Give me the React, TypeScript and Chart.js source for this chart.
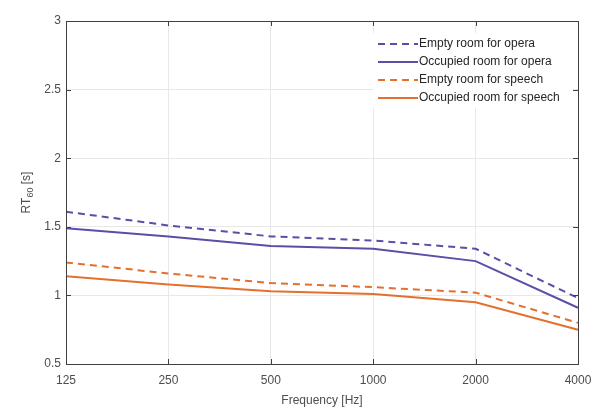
import React, { useEffect, useRef } from "react";
import { Chart, registerables } from "chart.js";

Chart.register(...registerables);

const frequencies = ["125", "250", "500", "1000", "2000", "4000"];
const emptyOpera = [1.61, 1.51, 1.43, 1.40, 1.34, 0.98];
const occupiedOpera = [1.49, 1.43, 1.36, 1.34, 1.25, 0.91];
const emptySpeech = [1.24, 1.16, 1.09, 1.06, 1.02, 0.80];
const occupiedSpeech = [1.14, 1.08, 1.03, 1.01, 0.95, 0.75];
const seriesLabels = [
  "Empty room for opera",
  "Occupied room for opera",
  "Empty room for speech",
  "Occupied room for speech",
];

const PURPLE = "#5a4ea6";
const ORANGE = "#e3702d";
const AXIS = "#404040";
const TEXT = "#4d4d4d";
const FONT = "'Liberation Sans', Arial, Helvetica, sans-serif";

const boxPlugin = {
  id: "boxPlugin",
  afterDatasetsDraw(chart: any) {
    const ctx = chart.ctx;
    const { left, right, top, bottom } = chart.chartArea;
    ctx.save();
    // legend
    const lx0 = 373, lx1 = 573, ly0 = 33, ly1 = 108;
    ctx.fillStyle = "#ffffff";
    ctx.fillRect(lx0, ly0, lx1 - lx0, ly1 - ly0);
    chart.data.datasets.forEach((ds: any, i: number) => {
      const y = 44 + i * 18;
      ctx.beginPath();
      ctx.strokeStyle = ds.borderColor;
      ctx.lineWidth = ds.borderWidth;
      ctx.setLineDash(ds.borderDash || []);
      ctx.moveTo(378, y);
      ctx.lineTo(418, y);
      ctx.stroke();
      ctx.setLineDash([]);
      ctx.fillStyle = "#262626";
      ctx.font = `12px ${FONT}`;
      ctx.textBaseline = "middle";
      ctx.textAlign = "left";
      ctx.fillText(ds.label, 419, y);
    });
    // box
    ctx.strokeStyle = AXIS;
    ctx.lineWidth = 1;
    ctx.setLineDash([]);
    ctx.strokeRect(Math.round(left) + 0.5, Math.round(top) + 0.5, Math.round(right - left), Math.round(bottom - top));
    // inward ticks
    const xs = chart.scales.x;
    const ys = chart.scales.y;
    ctx.beginPath();
    xs.ticks.forEach((_t: any, i: number) => {
      const x = Math.round(xs.getPixelForTick(i)) + 0.5;
      ctx.moveTo(x, bottom);
      ctx.lineTo(x, bottom - 5);
      ctx.moveTo(x, top);
      ctx.lineTo(x, top + 5);
    });
    ys.ticks.forEach((_t: any, i: number) => {
      const y = Math.round(ys.getPixelForTick(i)) + 0.5;
      ctx.moveTo(left, y);
      ctx.lineTo(left + 5, y);
      ctx.moveTo(right, y);
      ctx.lineTo(right - 5, y);
    });
    ctx.stroke();
    // y title with subscript
    ctx.translate(27, (top + bottom) / 2);
    ctx.rotate(-Math.PI / 2);
    ctx.fillStyle = TEXT;
    ctx.textBaseline = "middle";
    ctx.textAlign = "left";
    const p1 = "RT";
    const p3 = " [s]";
    ctx.font = `9px ${FONT}`;
    const w2 = ctx.measureText("60").width;
    ctx.font = `12px ${FONT}`;
    const w1 = ctx.measureText(p1).width;
    const w3 = ctx.measureText(p3).width;
    const total = w1 + w2 + w3;
    let x = -total / 2;
    ctx.fillText(p1, x, 0);
    x += w1;
    ctx.font = `9px ${FONT}`;
    ctx.fillText("60", x, 4);
    x += w2;
    ctx.font = `12px ${FONT}`;
    ctx.fillText(p3, x, 0);
    ctx.restore();
  },
};

export default function App() {
  const ref = useRef<HTMLCanvasElement>(null);
  useEffect(() => {
    if (!ref.current) return;
    const chart = new Chart(ref.current, {
      type: "line",
      data: {
        labels: frequencies,
        datasets: [
          { label: seriesLabels[0], data: emptyOpera, borderColor: PURPLE, borderWidth: 2, borderDash: [7, 5], pointRadius: 0, fill: false, tension: 0 },
          { label: seriesLabels[1], data: occupiedOpera, borderColor: PURPLE, borderWidth: 2, pointRadius: 0, fill: false, tension: 0 },
          { label: seriesLabels[2], data: emptySpeech, borderColor: ORANGE, borderWidth: 2, borderDash: [7, 5], pointRadius: 0, fill: false, tension: 0 },
          { label: seriesLabels[3], data: occupiedSpeech, borderColor: ORANGE, borderWidth: 2, pointRadius: 0, fill: false, tension: 0 },
        ],
      },
      options: {
        responsive: false,
        animation: false,
        layout: { padding: { left: 0, right: 17, top: 21, bottom: 0 } },
        plugins: { legend: { display: false }, tooltip: { enabled: false } },
        scales: {
          x: {
            type: "category",
            offset: false,
            grid: { color: "#e8e8e8", drawTicks: false },
            border: { display: false },
            ticks: { color: TEXT, font: { family: FONT, size: 12 }, padding: 9, maxRotation: 0, autoSkip: false },
            title: { display: true, text: "Frequency [Hz]", color: TEXT, font: { family: FONT, size: 12 }, padding: { top: 2, bottom: 0 } },
            afterFit: (s: any) => { s.height = 44; s.paddingLeft = 0; s.paddingRight = 0; },
          },
          y: {
            min: 0.5,
            max: 3,
            grid: { color: "#e8e8e8", drawTicks: false },
            border: { display: false },
            ticks: {
              stepSize: 0.5,
              color: TEXT,
              font: { family: FONT, size: 12 },
              padding: 5,
              callback: (v: any) => String(Number(v)),
            },
            afterFit: (s: any) => { s.width = 66; s.paddingTop = 0; s.paddingBottom = 0; },
          },
        },
      },
      plugins: [boxPlugin],
    } as any);
    return () => chart.destroy();
  }, []);
  return (
    <div style={{ position: "fixed", left: 0, top: 0, width: 595, height: 408, background: "#fff" }}>
      <canvas ref={ref} width={595} height={408} style={{ width: 595, height: 408 }} />
    </div>
  );
}
